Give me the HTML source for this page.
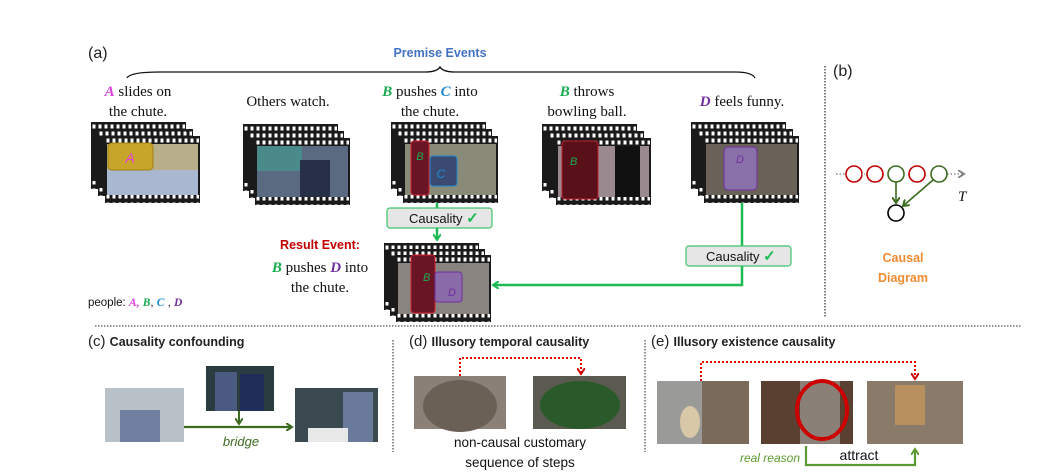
<!DOCTYPE html>
<html><head><meta charset="utf-8"><style>
html,body{margin:0;padding:0;background:#fff;}
svg{display:block;}
.ser{font-family:"Liberation Serif",serif;font-size:15px;fill:#111;}
.san{font-family:"Liberation Sans",sans-serif;}
</style></head><body>
<svg width="1060" height="473" viewBox="0 0 1060 473" xmlns="http://www.w3.org/2000/svg">
<defs>
<pattern id="perf" x="0" y="0" width="6" height="8" patternUnits="userSpaceOnUse">
<rect x="1.5" y="2.5" width="3" height="4" fill="#fff"/>
</pattern>
<g id="film">
<rect x="0" y="0" width="95" height="67" fill="#1a1a1a"/>
<rect x="1" y="0" width="93" height="8" fill="url(#perf)"/>
<rect x="1" y="59" width="93" height="8" fill="url(#perf)"/>
</g>
<marker id="ag" markerWidth="8" markerHeight="8" refX="6" refY="4" orient="auto" markerUnits="userSpaceOnUse"><path d="M0,0 L6,4 L0,8" fill="none" stroke="#1db954" stroke-width="2"/></marker>
<marker id="adg" markerWidth="8" markerHeight="8" refX="6" refY="4" orient="auto" markerUnits="userSpaceOnUse"><path d="M0,0 L6,4 L0,8" fill="none" stroke="#3d6b1f" stroke-width="2"/></marker>
<marker id="ar" markerWidth="8" markerHeight="8" refX="6" refY="4" orient="auto" markerUnits="userSpaceOnUse"><path d="M0,0 L6,4 L0,8" fill="none" stroke="#c00" stroke-width="2"/></marker>
<marker id="agr" markerWidth="8" markerHeight="8" refX="6" refY="4" orient="auto" markerUnits="userSpaceOnUse"><path d="M0,0 L6,4 L0,8" fill="none" stroke="#888" stroke-width="2"/></marker>
<marker id="alg" markerWidth="8" markerHeight="8" refX="6" refY="4" orient="auto" markerUnits="userSpaceOnUse"><path d="M0,0 L6,4 L0,8" fill="none" stroke="#5a9a30" stroke-width="2"/></marker>
</defs>

<!-- (a) -->
<text x="88" y="58" class="san" font-size="16" fill="#222">(a)</text>
<text x="440" y="57" class="san" font-size="12.5" font-weight="bold" fill="#4472c4" text-anchor="middle">Premise Events</text>
<path d="M127,78 Q130,72 160,72 L425,72 Q437,72 440,67 Q443,72 455,72 L735,72 Q752,72 755,78" fill="none" stroke="#111" stroke-width="1.3"/>

<!-- captions -->
<text x="138" y="96" class="ser" text-anchor="middle"><tspan fill="#e040e0" font-weight="bold" font-style="italic">A</tspan> slides on</text>
<text x="138" y="116" class="ser" text-anchor="middle">the chute.</text>
<text x="288" y="106" class="ser" text-anchor="middle">Others watch.</text>
<text x="430" y="96" class="ser" text-anchor="middle"><tspan fill="#1aaa50" font-weight="bold" font-style="italic">B</tspan> pushes <tspan fill="#1e88d0" font-weight="bold" font-style="italic">C</tspan> into</text>
<text x="430" y="116" class="ser" text-anchor="middle">the chute.</text>
<text x="587" y="96" class="ser" text-anchor="middle"><tspan fill="#1aaa50" font-weight="bold" font-style="italic">B</tspan> throws</text>
<text x="587" y="116" class="ser" text-anchor="middle">bowling ball.</text>
<text x="742" y="106" class="ser" text-anchor="middle"><tspan fill="#7030a0" font-weight="bold" font-style="italic">D</tspan> feels funny.</text>

<!-- stack 1 -->
<use href="#film" x="91" y="122"/><use href="#film" x="98" y="129"/><use href="#film" x="105" y="136"/>
<rect x="107" y="144" width="91" height="51" fill="#b8ae8a"/>
<rect x="107" y="170" width="91" height="25" fill="#a9b8d0"/>
<rect x="108" y="143" width="45" height="27" rx="4" fill="#c7a52a" stroke="#a08010"/>
<text x="130" y="163" class="san" font-size="14" fill="#e040e0" text-anchor="middle" font-style="italic">A</text>
<!-- stack 2 -->
<use href="#film" x="243" y="124"/><use href="#film" x="249" y="131"/><use href="#film" x="255" y="138"/>
<rect x="257" y="146" width="91" height="51" fill="#5a6a80"/>
<rect x="257" y="146" width="45" height="25" fill="#4a8a8a"/>
<rect x="300" y="160" width="30" height="37" fill="#283048"/>
<!-- stack 3 -->
<use href="#film" x="391" y="122"/><use href="#film" x="397" y="129"/><use href="#film" x="403" y="136"/>
<rect x="405" y="144" width="91" height="51" fill="#8a8a78"/>
<rect x="411" y="141" width="18" height="54" rx="3" fill="#6a1525" stroke="#d02030"/>
<rect x="430" y="156" width="27" height="30" rx="3" fill="#3a4a70" stroke="#1e88d0"/>
<text x="420" y="160" class="san" font-size="11" fill="#1aaa50" text-anchor="middle" font-style="italic">B</text>
<text x="441" y="178" class="san" font-size="12" fill="#1e88d0" text-anchor="middle" font-style="italic">C</text>
<!-- stack 4 -->
<use href="#film" x="542" y="124"/><use href="#film" x="549" y="131"/><use href="#film" x="556" y="138"/>
<rect x="558" y="146" width="91" height="51" fill="#9a8a90"/>
<rect x="562" y="141" width="36" height="58" rx="3" fill="#5a1018" stroke="#c02030"/>
<rect x="615" y="146" width="25" height="51" fill="#111"/>
<text x="570" y="165" class="san" font-size="11" fill="#1aaa50" font-style="italic">B</text>
<!-- stack 5 -->
<use href="#film" x="691" y="122"/><use href="#film" x="698" y="129"/><use href="#film" x="704" y="136"/>
<rect x="706" y="144" width="91" height="51" fill="#6a6258"/>
<rect x="724" y="147" width="33" height="43" rx="4" fill="#8a70a8" stroke="#7030a0"/>
<text x="736" y="163" class="san" font-size="11" fill="#7030a0" font-style="italic">D</text>

<!-- connectors -->
<line x1="437" y1="203" x2="437" y2="209" stroke="#1db954" stroke-width="2.5"/>
<rect x="387" y="208" width="105" height="20" rx="3" fill="#e6e6e6" stroke="#3ac46a" stroke-width="1.2"/>
<text x="409" y="223" class="san" font-size="13" fill="#111">Causality <tspan fill="#1db954" font-size="15" font-weight="bold">✓</tspan></text>
<line x1="437" y1="228" x2="437" y2="240" stroke="#1db954" stroke-width="2.5" marker-end="url(#ag)"/>
<line x1="742" y1="203" x2="742" y2="246" stroke="#1db954" stroke-width="2.5"/>
<rect x="686" y="246" width="105" height="20" rx="3" fill="#e6e6e6" stroke="#3ac46a" stroke-width="1.2"/>
<text x="706" y="261" class="san" font-size="13" fill="#111">Causality <tspan fill="#1db954" font-size="15" font-weight="bold">✓</tspan></text>
<polyline points="742,266 742,285 493,285" fill="none" stroke="#1db954" stroke-width="2.5" marker-end="url(#ag)"/>

<!-- result -->
<text x="320" y="249" class="san" font-size="12.5" font-weight="bold" fill="#c00000" text-anchor="middle">Result Event:</text>
<text x="320" y="272" class="ser" text-anchor="middle"><tspan fill="#1aaa50" font-weight="bold" font-style="italic">B</tspan> pushes <tspan fill="#7030a0" font-weight="bold" font-style="italic">D</tspan> into</text>
<text x="320" y="292" class="ser" text-anchor="middle">the chute.</text>
<use href="#film" x="384" y="243"/><use href="#film" x="390" y="249"/><use href="#film" x="396" y="255"/>
<rect x="398" y="263" width="91" height="51" fill="#8a8480"/>
<rect x="411" y="255" width="24" height="58" rx="3" fill="#6a1525" stroke="#d02030"/>
<rect x="435" y="272" width="27" height="30" rx="3" fill="#8a6aa8" stroke="#7030a0"/>
<text x="423" y="281" class="san" font-size="11" fill="#1aaa50" font-style="italic">B</text>
<text x="448" y="296" class="san" font-size="11" fill="#7030a0" font-style="italic">D</text>
<text x="88" y="306" class="san" font-size="11.5" fill="#111">people: <tspan fill="#e040e0" font-weight="bold" font-style="italic" font-family="Liberation Serif">A,</tspan> <tspan fill="#1aaa50" font-weight="bold" font-style="italic" font-family="Liberation Serif">B</tspan>, <tspan fill="#1e88d0" font-weight="bold" font-style="italic" font-family="Liberation Serif">C</tspan> , <tspan fill="#7030a0" font-weight="bold" font-style="italic" font-family="Liberation Serif">D</tspan></text>

<!-- (b) -->
<line x1="825" y1="66" x2="825" y2="318" stroke="#555" stroke-width="1.5" stroke-dasharray="1.5,1.5"/>
<text x="833" y="76" class="san" font-size="16" fill="#222">(b)</text>
<line x1="836" y1="174" x2="846" y2="174" stroke="#888" stroke-width="1.5" stroke-dasharray="1.5,2"/>
<line x1="947" y1="174" x2="964" y2="174" stroke="#888" stroke-width="1.5" stroke-dasharray="1.5,2" marker-end="url(#agr)"/>
<g fill="none" stroke-width="1.6">
<circle cx="854" cy="174" r="8" stroke="#c00000"/>
<line x1="862" y1="174" x2="867" y2="174" stroke="#aaa" stroke-dasharray="1,1"/>
<circle cx="875" cy="174" r="8" stroke="#c00000"/>
<circle cx="896" cy="174" r="8" stroke="#3d6b1f"/>
<circle cx="917" cy="174" r="8" stroke="#c00000"/>
<circle cx="939" cy="174" r="8" stroke="#3d6b1f"/>
<circle cx="896" cy="213" r="8" stroke="#000"/>
<line x1="896" y1="182" x2="896" y2="203" stroke="#3d6b1f" marker-end="url(#adg)"/>
<line x1="933" y1="180" x2="903" y2="206" stroke="#3d6b1f" marker-end="url(#adg)"/>
</g>
<text x="958" y="201" class="ser" font-style="italic" font-size="16">T</text>
<text x="903" y="262" class="san" font-size="12.5" font-weight="bold" fill="#f08a30" text-anchor="middle">Causal</text>
<text x="903" y="282" class="san" font-size="12.5" font-weight="bold" fill="#f08a30" text-anchor="middle">Diagram</text>

<!-- separators -->
<line x1="95" y1="326" x2="1022" y2="326" stroke="#555" stroke-width="1.3" stroke-dasharray="1.5,1.5"/>
<line x1="393" y1="340" x2="393" y2="452" stroke="#555" stroke-width="1.3" stroke-dasharray="1.5,1.5"/>
<line x1="645" y1="340" x2="645" y2="452" stroke="#555" stroke-width="1.3" stroke-dasharray="1.5,1.5"/>

<!-- (c) -->
<text x="88" y="346" class="san" font-size="15" fill="#222">(c) <tspan font-size="12.5" font-weight="bold">Causality confounding</tspan></text>
<rect x="105" y="388" width="79" height="54" fill="#b8c0c8"/>
<rect x="120" y="410" width="40" height="32" fill="#7080a0"/>
<rect x="206" y="366" width="68" height="45" fill="#2a3c40"/>
<rect x="215" y="372" width="22" height="39" fill="#4a5a80"/>
<rect x="240" y="374" width="24" height="37" fill="#1e2e58"/>
<rect x="295" y="388" width="83" height="54" fill="#3a4a50"/>
<rect x="343" y="392" width="30" height="50" fill="#6a7a9a"/>
<rect x="308" y="428" width="40" height="14" fill="#e8e8e8"/>
<line x1="239" y1="411" x2="239" y2="424" stroke="#3d6b1f" stroke-width="2" marker-end="url(#adg)"/>
<line x1="184" y1="427" x2="292" y2="427" stroke="#3d6b1f" stroke-width="2.2" marker-end="url(#adg)"/>
<text x="241" y="446" class="san" font-size="13" font-style="italic" fill="#3d6b1f" text-anchor="middle">bridge</text>

<!-- (d) -->
<text x="409" y="346" class="san" font-size="15" fill="#222">(d) <tspan font-size="12.5" font-weight="bold">Illusory temporal causality</tspan></text>
<rect x="414" y="376" width="92" height="53" fill="#8a8078"/>
<ellipse cx="460" cy="406" rx="37" ry="26" fill="#6a6056"/>
<rect x="533" y="376" width="93" height="53" fill="#5a5a50"/>
<ellipse cx="580" cy="405" rx="40" ry="24" fill="#2a5a2a"/>
<polyline points="460,376 460,358 581,358 581,374" fill="none" stroke="#d00" stroke-width="2" stroke-dasharray="2,2" marker-end="url(#ar)"/>
<text x="520" y="447" class="san" font-size="13.5" fill="#111" text-anchor="middle">non-causal customary</text>
<text x="520" y="467" class="san" font-size="13.5" fill="#111" text-anchor="middle">sequence of steps</text>

<!-- (e) -->
<text x="651" y="346" class="san" font-size="15" fill="#222">(e) <tspan font-size="12.5" font-weight="bold">Illusory existence causality</tspan></text>
<rect x="657" y="381" width="92" height="63" fill="#7a6a5a"/>
<rect x="657" y="381" width="45" height="63" fill="#9a9a98"/>
<ellipse cx="690" cy="422" rx="10" ry="16" fill="#d8c8a8"/>
<rect x="761" y="381" width="92" height="63" fill="#5a4030"/>
<rect x="800" y="381" width="40" height="63" fill="#8a8078"/>
<ellipse cx="822" cy="410" rx="25" ry="29" fill="none" stroke="#c00" stroke-width="4"/>
<rect x="867" y="381" width="96" height="63" fill="#8a7a6a"/>
<rect x="895" y="385" width="30" height="40" fill="#b89060"/>
<polyline points="701,381 701,362 915,362 915,379" fill="none" stroke="#d00" stroke-width="2" stroke-dasharray="2,2" marker-end="url(#ar)"/>
<polyline points="806,446 806,465 915,465 915,449" fill="none" stroke="#5a9a30" stroke-width="2.2" marker-end="url(#alg)"/>
<text x="800" y="462" class="san" font-size="12" font-style="italic" fill="#5a9a30" text-anchor="end">real reason</text>
<text x="859" y="460" class="san" font-size="14" fill="#111" text-anchor="middle">attract</text>
</svg>
</body></html>
